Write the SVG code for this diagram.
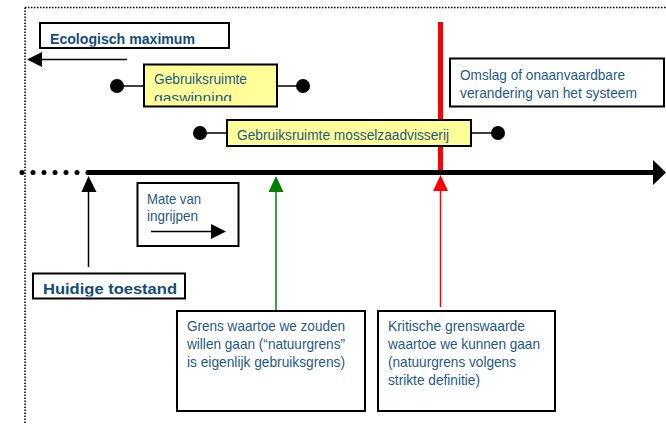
<svg xmlns="http://www.w3.org/2000/svg" width="666" height="424" viewBox="0 0 666 424">
<style>
.box{fill:#fff;stroke:#000;stroke-width:2}
.ybox{fill:#ffff99;stroke:#000;stroke-width:2}
.t{font-family:"Liberation Sans",Arial,sans-serif;font-size:14.5px;fill:#1f5a85}
.b{font-family:"Liberation Sans",Arial,sans-serif;font-size:15.5px;font-weight:bold;fill:#134c78}
</style>
<defs>
<clipPath id="c1"><rect x="41" y="24" width="187" height="22.5"/></clipPath>
<clipPath id="c2"><rect x="145" y="65" width="131" height="36"/></clipPath>
<clipPath id="c3"><rect x="33" y="274" width="151" height="22.5"/></clipPath>
</defs>
<rect width="666" height="424" fill="#fff"/>
<!-- dotted frame -->
<line x1="25" y1="7.5" x2="666" y2="7.5" stroke="#000" stroke-width="1.5" stroke-dasharray="1.5,1.5"/>
<line x1="25" y1="7.5" x2="25" y2="424" stroke="#000" stroke-width="1.5" stroke-dasharray="1.5,1.5"/>

<g id="connectors">
  <line x1="127" y1="59.5" x2="40" y2="59.5" stroke="#000" stroke-width="1.5"/>
  <polygon points="27,59.5 42,52 42,67" fill="#000"/>
  <line x1="440.5" y1="22" x2="440.5" y2="173" stroke="#ff0000" stroke-width="5"/>
  <line x1="88" y1="172.5" x2="655" y2="172.5" stroke="#000" stroke-width="5"/>
  <polygon points="666,172.5 653,160 653,185" fill="#000"/>
  <g fill="#000">
    <circle cx="22" cy="172.5" r="2.5"/><circle cx="33" cy="172.5" r="2.5"/><circle cx="44" cy="172.5" r="2.5"/>
    <circle cx="55" cy="172.5" r="2.5"/><circle cx="66" cy="172.5" r="2.5"/><circle cx="77" cy="172.5" r="2.5"/>
    <circle cx="88" cy="172.5" r="2.5"/>
  </g>
  <line x1="88.5" y1="267" x2="88.5" y2="190" stroke="#000" stroke-width="1.5"/>
  <polygon points="88.5,176 81.5,192 96.5,192" fill="#000"/>
  <line x1="276" y1="311" x2="276" y2="190" stroke="#008000" stroke-width="1.5"/>
  <polygon points="276,176 268.5,192 283.5,192" fill="#008000"/>
  <line x1="440.5" y1="307" x2="440.5" y2="190" stroke="#ff0000" stroke-width="1.5"/>
  <polygon points="440.5,175 433,191 448,191" fill="#ff0000"/>
  <line x1="117" y1="86" x2="144" y2="86" stroke="#000" stroke-width="1.5"/>
  <line x1="277" y1="86" x2="303" y2="86" stroke="#000" stroke-width="1.5"/>
  <line x1="200" y1="133" x2="227" y2="133" stroke="#000" stroke-width="1.5"/>
  <line x1="471" y1="133" x2="498" y2="133" stroke="#000" stroke-width="1.5"/>
  <circle cx="117" cy="86" r="7" fill="#000"/>
  <circle cx="303" cy="86" r="7" fill="#000"/>
  <circle cx="200" cy="133" r="7" fill="#000"/>
  <circle cx="498" cy="133" r="7" fill="#000"/>
</g>

<g id="ecologisch">
  <rect class="box" x="40" y="23" width="189" height="25"/>
  <text class="b" x="50" y="43.5" textLength="145" lengthAdjust="spacingAndGlyphs" clip-path="url(#c1)">Ecologisch maximum</text>
</g>
<g id="gaswinning">
  <rect class="ybox" x="144" y="64.5" width="133" height="42"/>
  <g clip-path="url(#c2)">
    <text class="t" x="154" y="84" textLength="93" lengthAdjust="spacingAndGlyphs">Gebruiksruimte</text>
    <text class="t" x="154" y="103" textLength="78" lengthAdjust="spacingAndGlyphs">gaswinning</text>
  </g>
</g>
<g id="mosselzaad">
  <rect class="ybox" x="227" y="120" width="244" height="26"/>
  <text class="t" x="237" y="140" textLength="212" lengthAdjust="spacingAndGlyphs">Gebruiksruimte mosselzaadvisserij</text>
</g>
<g id="omslag">
  <rect class="box" x="450" y="58.5" width="214" height="48"/>
  <text class="t" x="460" y="80" textLength="165" lengthAdjust="spacingAndGlyphs">Omslag of onaanvaardbare</text>
  <text class="t" x="460" y="98" textLength="177" lengthAdjust="spacingAndGlyphs">verandering van het systeem</text>
</g>
<g id="mate">
  <rect class="box" x="137.5" y="183" width="101" height="63"/>
  <text class="t" x="147" y="204" textLength="54" lengthAdjust="spacingAndGlyphs">Mate van</text>
  <text class="t" x="147" y="221" textLength="51" lengthAdjust="spacingAndGlyphs">ingrijpen</text>
  <line x1="151" y1="231.5" x2="213" y2="231.5" stroke="#000" stroke-width="1.5"/>
  <polygon points="226,231.5 211,224 211,239" fill="#000"/>
</g>
<g id="huidige">
  <rect class="box" x="33" y="273.5" width="152" height="25"/>
  <text class="b" x="43" y="293.5" textLength="134" lengthAdjust="spacingAndGlyphs" clip-path="url(#c3)">Huidige toestand</text>
</g>
<g id="grens">
  <rect class="box" x="177" y="311" width="188" height="100"/>
  <text class="t" x="187" y="331" textLength="158" lengthAdjust="spacingAndGlyphs">Grens waartoe we zouden</text>
  <text class="t" x="187" y="349" textLength="158" lengthAdjust="spacingAndGlyphs">willen gaan (“natuurgrens”</text>
  <text class="t" x="187" y="367" textLength="158" lengthAdjust="spacingAndGlyphs">is eigenlijk gebruiksgrens)</text>
</g>
<g id="kritisch">
  <rect class="box" x="378" y="311" width="177" height="100"/>
  <text class="t" x="388" y="331" textLength="137" lengthAdjust="spacingAndGlyphs">Kritische grenswaarde</text>
  <text class="t" x="388" y="349" textLength="152" lengthAdjust="spacingAndGlyphs">waartoe we kunnen gaan</text>
  <text class="t" x="388" y="367" textLength="128" lengthAdjust="spacingAndGlyphs">(natuurgrens volgens</text>
  <text class="t" x="388" y="385" textLength="92" lengthAdjust="spacingAndGlyphs">strikte definitie)</text>
</g>
</svg>
